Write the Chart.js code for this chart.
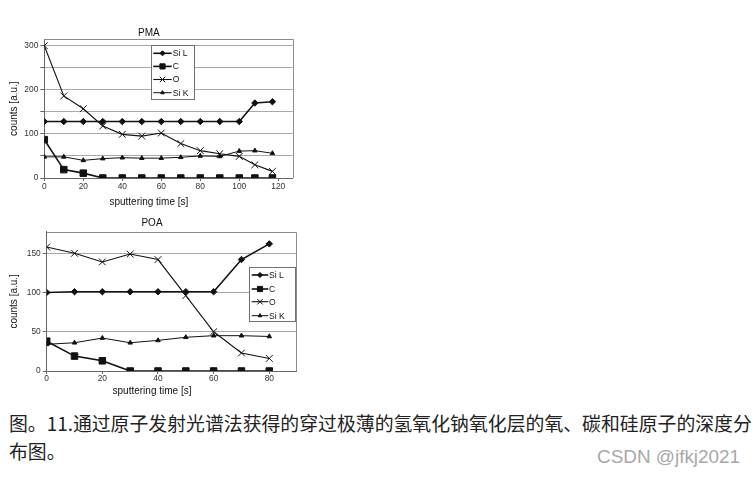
<!DOCTYPE html>
<html>
<head>
<meta charset="utf-8">
<script src="https://cdn.jsdelivr.net/npm/chart.js@4.4.1/dist/chart.umd.min.js"></script>
<style>
  html, body { margin: 0; padding: 0; background: #fff; }
  #page { position: relative; width: 755px; height: 478px; overflow: hidden; background: #fff; }
  canvas { position: absolute; left: 0; }
  #c1 { top: 0; }
  #c2 { top: 210px; }
  #caption { position: absolute; left: 9px; top: 409px; font-family: "Noto Sans CJK SC", sans-serif; font-size: 18.86px; line-height: 28px; color: #222; white-space: nowrap; }
  #wm { position: absolute; left: 597px; top: 446px; font-family: "Liberation Sans", Arial, sans-serif; font-size: 18.9px; line-height: 22px; color: #a8a8a8; white-space: nowrap; }
</style>
</head>
<body>
<div id="page">
  <canvas id="c1" width="310" height="210"></canvas>
  <canvas id="c2" width="310" height="190"></canvas>
  <div id="caption">图。11.通过原子发射光谱法获得的穿过极薄的氢氧化钠氧化层的氧、碳和硅原子的深度分<br>布图。</div>
  <div id="wm">CSDN @jfkj2021</div>
</div>
<script>
// ---- data ----
const seriesNames = ["Si L", "C", "O", "Si K"];

const pmaTime = [0, 10, 20, 30, 40, 50, 60, 70, 80, 90, 100, 108, 117];
const pmaSiL  = [128, 128, 128, 128, 128, 128, 128, 128, 128, 128, 128, 170, 173];
const pmaC    = [87, 19, 11, 0, 0, 0, 0, 0, 0, 0, 0, 0, 0];
const pmaO    = [300, 186, 157, 118, 99, 95, 102, 78, 62, 55, 49, 30, 15];
const pmaSiK  = [48, 48, 40, 44, 46, 45, 45, 47, 50, 49, 61, 62, 56];

const poaTime = [0, 10, 20, 30, 40, 50, 60, 70, 80];
const poaSiL  = [100, 101, 101, 101, 101, 101, 101, 142, 162];
const poaC    = [38, 19, 13, 0, 0, 0, 0, 0, 0];
const poaO    = [158, 150, 139, 149, 142, 96, 50, 23, 16];
const poaSiK  = [34, 36, 42, 36, 39, 43, 45, 45, 44];

const xTitle = "sputtering time [s]";
const yTitle = "counts [a.u.]";

// ---- styles ----
const FONT = "'Liberation Sans', Arial, sans-serif";
const seriesStyle = [
  { pointStyle: 'rectRot',  pointRadius: 3.2, borderWidth: 1.6 },
  { pointStyle: 'rect',     pointRadius: 4.6, borderWidth: 1.6 },
  { pointStyle: 'crossRot', pointRadius: 4.8, borderWidth: 1.1 },
  { pointStyle: 'triangle', pointRadius: 2.6, borderWidth: 1 }
];

function makeDatasets(time, arrays) {
  return arrays.map((vals, i) => ({
    label: seriesNames[i],
    data: time.map((t, k) => ({ x: t, y: vals[k] })),
    showLine: true,
    borderColor: '#111',
    backgroundColor: '#111',
    pointBorderColor: '#111',
    pointBackgroundColor: '#111',
    borderWidth: seriesStyle[i].borderWidth,
    pointStyle: seriesStyle[i].pointStyle,
    pointRadius: seriesStyle[i].pointRadius,
    pointBorderWidth: 1,
    tension: 0
  }));
}

const frame = {
  id: 'frame',
  beforeDatasetsDraw(chart) {
    const { ctx, chartArea: a } = chart;
    ctx.save();
    ctx.strokeStyle = '#8c8c8c';
    ctx.lineWidth = 1;
    ctx.beginPath();
    const t = Math.round(a.top) + 0.5, r = Math.round(a.right) + 0.5;
    ctx.moveTo(a.left, t); ctx.lineTo(r, t); ctx.lineTo(r, a.bottom);
    ctx.stroke();
    ctx.restore();
  }
};

const insideLegend = {
  id: 'insideLegend',
  afterDraw(chart, args, o) {
    if (!o || !o.box) return;
    const ctx = chart.ctx;
    const b = o.box;
    ctx.save();
    ctx.fillStyle = '#fff';
    ctx.fillRect(b.x, b.y, b.w, b.h);
    ctx.strokeStyle = '#707070';
    ctx.lineWidth = 1;
    ctx.strokeRect(Math.round(b.x) + 0.5, Math.round(b.y) + 0.5, Math.round(b.w), Math.round(b.h));
    ctx.font = '8.6px ' + FONT;
    ctx.textBaseline = 'middle';
    ctx.textAlign = 'left';
    chart.data.datasets.forEach((ds, i) => {
      const yy = b.y + o.rows[i];
      const x0 = b.x + o.lineX0, x1 = b.x + o.lineX1;
      ctx.strokeStyle = ds.borderColor;
      ctx.fillStyle = ds.backgroundColor;
      ctx.lineWidth = ds.borderWidth;
      ctx.beginPath(); ctx.moveTo(x0, yy); ctx.lineTo(x1, yy); ctx.stroke();
      ctx.lineWidth = 1;
      if (Chart.helpers && Chart.helpers.drawPoint) {
        Chart.helpers.drawPoint(ctx, { pointStyle: ds.pointStyle, rotation: 0, radius: ds.pointRadius * 0.8, borderWidth: 1 }, (x0 + x1) / 2, yy);
      }
      ctx.fillStyle = '#111';
      ctx.fillText(ds.label, b.x + o.textX, yy + 0.5);
    });
    ctx.restore();
  }
};

function makeChart(id, cfg) {
  return new Chart(document.getElementById(id), {
    type: 'scatter',
    data: { datasets: makeDatasets(cfg.time, cfg.series) },
    plugins: [frame, insideLegend],
    options: {
      responsive: false,
      animation: false,
      devicePixelRatio: 1,
      layout: { padding: cfg.padding },
      plugins: {
        legend: { display: false },
        tooltip: { enabled: false },
        title: { display: true, text: cfg.title, color: '#111', font: { family: FONT, size: 10, weight: 'normal' }, padding: cfg.titlePad },
        subtitle: { display: true, position: 'bottom', text: xTitle, color: '#111', font: { family: FONT, size: 10, weight: 'normal' }, padding: cfg.subPad },
        insideLegend: cfg.legend
      },
      scales: {
        x: {
          type: 'linear', min: 0, max: cfg.xMax,
          afterFit: s => { s.height = cfg.xAxisH; },
          border: { display: true, color: '#666', width: 1 },
          grid: { drawOnChartArea: false, drawTicks: true, tickLength: 3, tickColor: '#666' },
          ticks: { stepSize: 20, includeBounds: false, color: '#333', padding: cfg.xTickPad, maxRotation: 0, font: { family: FONT, size: 8.4 } },
          title: { display: false }
        },
        y: {
          min: 0, max: cfg.yMax,
          afterFit: s => { s.width = cfg.yAxisW; },
          border: { display: true, color: '#666', width: 1 },
          grid: { color: '#a8a8a8', tickColor: '#666', tickLength: 4, lineWidth: 1 },
          ticks: { stepSize: 50, includeBounds: false, color: '#333', padding: 2, font: { family: FONT, size: 8.4 },
                   callback: v => (v % cfg.yLabelStep === 0 ? String(v) : '') },
          title: { display: true, text: yTitle, color: '#111', font: { family: FONT, size: 10 }, padding: { top: cfg.yTitlePad, bottom: 0 } }
        }
      }
    }
  });
}

makeChart('c1', {
  title: 'PMA', time: pmaTime, series: [pmaSiL, pmaC, pmaO, pmaSiK],
  xMax: 127.4, yMax: 314.5, yLabelStep: 100,
  padding: { left: 5, right: 17.3, top: 0, bottom: 0 },
  titlePad: { top: 27, bottom: 0.3 },
  subPad: { top: 2, bottom: 2 },
  xAxisH: 16, yAxisW: 39.3, xTickPad: 1, yTitlePad: 3,
  legend: { box: { x: 151, y: 45, w: 43, h: 54 }, rows: [8.3, 21.4, 34.5, 47.7], lineX0: 2.3, lineX1: 20.7, textX: 21.7 }
});

makeChart('c2', {
  title: 'POA', time: poaTime, series: [poaSiL, poaC, poaO, poaSiK],
  xMax: 89.6, yMax: 177.5, yLabelStep: 50,
  padding: { left: 8, right: 14, top: 0, bottom: 0 },
  titlePad: { top: 7, bottom: 2.7 },
  subPad: { top: 0.7, bottom: 2.3 },
  xAxisH: 14, yAxisW: 38.7, xTickPad: 0, yTitlePad: 0,
  legend: { box: { x: 249.3, y: 57.3, w: 45.7, h: 54.4 }, rows: [7.7, 21.7, 34.4, 48.4], lineX0: 2.4, lineX1: 19, textX: 19.7 }
});
</script>
</body>
</html>
